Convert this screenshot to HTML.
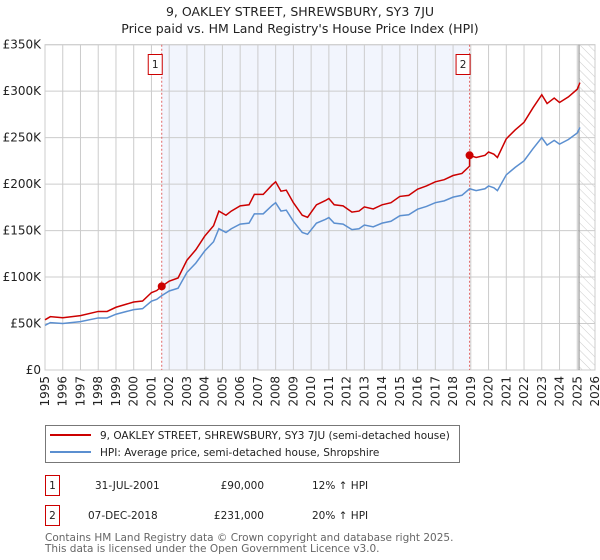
<!DOCTYPE html>
<html><head><meta charset="utf-8"><style>
body{margin:0;background:#fff}
svg{font-family:"DejaVu Sans","Liberation Sans",sans-serif;display:block}
</style></head><body>
<svg id="chart" width="600" height="560" viewBox="0 0 600 560">
<defs><pattern id="hatch" width="6" height="6" patternUnits="userSpaceOnUse" patternTransform="rotate(-45)"><line x1="0" y1="0" x2="0" y2="6" stroke="#ccc" stroke-width="1"/></pattern></defs>
<text x="300" y="16" text-anchor="middle" font-size="12.5" fill="#222">9, OAKLEY STREET, SHREWSBURY, SY3 7JU</text>
<text x="300" y="33" text-anchor="middle" font-size="12.5" fill="#222">Price paid vs. HM Land Registry's House Price Index (HPI)</text>
<g id="plot"></g>
<g>
<rect x="45.5" y="425.5" width="414" height="37" fill="#fff" stroke="#777"/>
<line x1="50" y1="435" x2="91" y2="435" stroke="#cc0000" stroke-width="2"/>
<text x="100" y="439" font-size="10.5" fill="#222">9, OAKLEY STREET, SHREWSBURY, SY3 7JU (semi-detached house)</text>
<line x1="50" y1="452" x2="91" y2="452" stroke="#5b8fd0" stroke-width="2"/>
<text x="100" y="456" font-size="10.5" fill="#222">HPI: Average price, semi-detached house, Shropshire</text>
</g>
<g font-size="10.5" fill="#222">
<rect x="45.5" y="475.5" width="14" height="20" fill="none" stroke="#cc0000"/>
<text x="52.5" y="489" text-anchor="middle">1</text>
<text x="95" y="489">31-JUL-2001</text>
<text x="264" y="489" text-anchor="end">£90,000</text>
<text x="312" y="489">12% ↑ HPI</text>
<rect x="45.5" y="505.5" width="14" height="20" fill="none" stroke="#cc0000"/>
<text x="52.5" y="519" text-anchor="middle">2</text>
<text x="88" y="519">07-DEC-2018</text>
<text x="264" y="519" text-anchor="end">£231,000</text>
<text x="312" y="519">20% ↑ HPI</text>
</g>
<text x="45" y="541" font-size="10.5" fill="#666">Contains HM Land Registry data © Crown copyright and database right 2025.</text>
<text x="45" y="552" font-size="10.5" fill="#666">This data is licensed under the Open Government Licence v3.0.</text>
</svg>
<script>
const hpiYears=[1995,1995.3,1996,1997,1998,1998.5,1999,2000,2000.5,2001,2001.3,2001.58,2002,2002.5,2003,2003.5,2004,2004.5,2004.8,2005.2,2005.5,2006,2006.5,2006.8,2007.3,2007.8,2008,2008.3,2008.6,2009,2009.5,2009.8,2010.3,2010.8,2011,2011.3,2011.8,2012.3,2012.7,2013,2013.5,2014,2014.5,2015,2015.5,2016,2016.5,2017,2017.5,2018,2018.5,2018.93,2019.3,2019.8,2020,2020.3,2020.5,2021,2021.5,2022,2022.5,2023,2023.3,2023.7,2024,2024.5,2025,2025.15];
const hpiValues=[48,51,50,52,56,56,60,65,66,74,76,80,85,88,105,115,128,138,152,148,152,157,158,168,168,177,180,171,172,160,148,146,158,162,164,158,157,151,152,156,154,158,160,166,167,173,176,180,182,186,188,195,193,195,198,196,193,210,218,225,238,250,242,247,243,248,255,261];
const saleYears=[2001.58,2018.93];
const salePrices=[90,231];
const yTicks=[0,50,100,150,200,250,300,350];
const yTickLabels=["£0","£50K","£100K","£150K","£200K","£250K","£300K","£350K"];
const xTicks=[1995,1996,1997,1998,1999,2000,2001,2002,2003,2004,2005,2006,2007,2008,2009,2010,2011,2012,2013,2014,2015,2016,2017,2018,2019,2020,2021,2022,2023,2024,2025,2026];
const dataEnd=2025.1;

const L=45,R=595,T=44.7,B=370,x0=1995,x1=2026,yMax=350;
const X=v=>L+(v-x0)/(x1-x0)*(R-L);
const Y=v=>B-v/yMax*(B-T);
const NS="http://www.w3.org/2000/svg";
const g=document.getElementById('plot');
function mk(tag,attrs,parent){const e=document.createElementNS(NS,tag);for(const k in attrs)e.setAttribute(k,attrs[k]);(parent||g).appendChild(e);return e;}
function hpiAt(t){for(let i=1;i<hpiYears.length;i++){if(t<=hpiYears[i]){const f=(t-hpiYears[i-1])/(hpiYears[i]-hpiYears[i-1]);return hpiValues[i-1]+f*(hpiValues[i]-hpiValues[i-1]);}}return hpiValues[hpiValues.length-1];}

let sh=mk('rect',{x:X(saleYears[0]),y:T,width:X(saleYears[1])-X(saleYears[0]),height:B-T,fill:'#eef2fc',opacity:0.75});


let hz=mk('rect',{x:X(dataEnd),y:T,width:R-X(dataEnd),height:B-T,fill:'url(#hatch)'});


yTicks.forEach((v,i)=>{
 let l=mk('line',{x1:L,x2:R,y1:Y(v),y2:Y(v),stroke:'#ccc','stroke-width':1});
 
 
 let t=mk('text',{x:L-4,y:Y(v)+4,'text-anchor':'end','font-size':12,fill:'#222'});
 t.textContent=yTickLabels[i];
 
 
});
xTicks.forEach(v=>{
 let l=mk('line',{x1:X(v),x2:X(v),y1:T,y2:B,stroke:'#ccc','stroke-width':1});
 
 
 let t=mk('text',{x:0,y:0,'text-anchor':'end','font-size':12,fill:'#222',transform:`translate(${X(v)+4},${B+6}) rotate(-90)`});
 t.textContent=v;
 
 
});
let fr=mk('rect',{x:L,y:T,width:R-L,height:B-T,fill:'none',stroke:'#ccc'});


let el=mk('line',{x1:X(dataEnd),x2:X(dataEnd),y1:T,y2:B,stroke:'#999','stroke-width':1.2});


saleYears.forEach((s,i)=>{
 let l=mk('line',{x1:X(s),x2:X(s),y1:T,y2:B,stroke:'#e06666','stroke-dasharray':'2,2','stroke-width':1});
 
 
 let r=mk('rect',{x:X(s)-13.5,y:54.5,width:14,height:20,fill:'#fff',stroke:'#cc0000'});
 
 
 let t=mk('text',{x:X(s)-6.5,y:68,'text-anchor':'middle','font-size':10.5,fill:'#222'});
 t.textContent=String(i+1);
 
 
});
// HPI line
let hp=mk('polyline',{points:hpiYears.map((t,i)=>X(t)+','+Y(hpiValues[i])).join(' '),fill:'none',stroke:'#5b8fd0','stroke-width':1.5});


// property line: indexed to HPI from each sale
const redPts=hpiYears.map((t,i)=>{let k=0;if(t>=saleYears[1])k=1;const f=salePrices[k]/hpiAt(saleYears[k]);return [t,hpiValues[i]*f];});
let extra=[[saleYears[1],hpiAt(saleYears[1])*salePrices[0]/hpiAt(saleYears[0])],[saleYears[1],salePrices[1]]];
let pts=redPts.filter(p=>p[0]<saleYears[1]).concat(extra).concat(redPts.filter(p=>p[0]>saleYears[1]));
let rp=mk('polyline',{points:pts.map(p=>X(p[0])+','+Y(p[1])).join(' '),fill:'none',stroke:'#cc0000','stroke-width':1.5});


saleYears.forEach((s,i)=>{
 let c=mk('circle',{cx:X(s),cy:Y(salePrices[i]),r:4,fill:'#cc0000'});
 
 
});
</script>
</body></html>
